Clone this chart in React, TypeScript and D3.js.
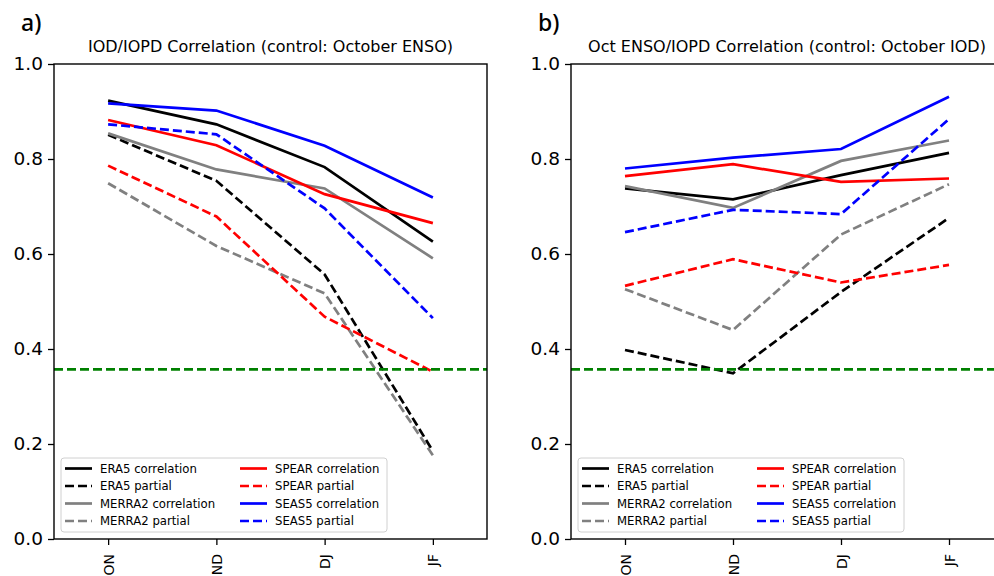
import React, { useEffect, useRef } from "react";
import * as d3 from "d3";

const seasons = ["ON", "ND", "DJ", "JF"];
const yTicks = [0, 0.2, 0.4, 0.6, 0.8, 1.0];
const signifLevel = 0.357;

// panel a: IOD/IOPD (control: October ENSO)
const iodEra5Corr = [0.923, 0.873, 0.783, 0.626];
const iodEra5Partial = [0.851, 0.754, 0.557, 0.185];
const iodMerra2Corr = [0.854, 0.778, 0.738, 0.591];
const iodMerra2Partial = [0.749, 0.617, 0.517, 0.176];
const iodSpearCorr = [0.882, 0.829, 0.726, 0.665];
const iodSpearPartial = [0.786, 0.679, 0.468, 0.352];
const iodSeas5Corr = [0.917, 0.902, 0.828, 0.719];
const iodSeas5Partial = [0.873, 0.852, 0.696, 0.465];

// panel b: Oct ENSO/IOPD (control: October IOD)
const ensoEra5Corr = [0.738, 0.715, 0.766, 0.813];
const ensoEra5Partial = [0.398, 0.349, 0.52, 0.676];
const ensoMerra2Corr = [0.743, 0.697, 0.796, 0.839];
const ensoMerra2Partial = [0.526, 0.44, 0.641, 0.747];
const ensoSpearCorr = [0.764, 0.789, 0.752, 0.759];
const ensoSpearPartial = [0.533, 0.589, 0.54, 0.577];
const ensoSeas5Corr = [0.78, 0.803, 0.821, 0.931];
const ensoSeas5Partial = [0.646, 0.693, 0.684, 0.884];

const seriesStyle = [
  { name: "ERA5 correlation", color: "black", dash: false },
  { name: "ERA5 partial", color: "black", dash: true },
  { name: "MERRA2 correlation", color: "gray", dash: false },
  { name: "MERRA2 partial", color: "gray", dash: true },
  { name: "SPEAR correlation", color: "red", dash: false },
  { name: "SPEAR partial", color: "red", dash: true },
  { name: "SEAS5 correlation", color: "blue", dash: false },
  { name: "SEAS5 partial", color: "blue", dash: true },
];

const panels = [
  {
    label: "a)",
    title: "IOD/IOPD Correlation (control: October ENSO)",
    left: 54,
    right: 487,
    series: [iodEra5Corr, iodEra5Partial, iodMerra2Corr, iodMerra2Partial, iodSpearCorr, iodSpearPartial, iodSeas5Corr, iodSeas5Partial],
  },
  {
    label: "b)",
    title: "Oct ENSO/IOPD Correlation (control: October IOD)",
    left: 571,
    right: 1003,
    series: [ensoEra5Corr, ensoEra5Partial, ensoMerra2Corr, ensoMerra2Partial, ensoSpearCorr, ensoSpearPartial, ensoSeas5Corr, ensoSeas5Partial],
  },
];

const W = 994;
const H = 576;
const top = 64;
const bottom = 539;
const dejavu = "'DejaVu Sans', sans-serif";

const App = () => {
  const svgRef = useRef<SVGSVGElement>(null);

  useEffect(() => {
    const svg = d3.select(svgRef.current);
    svg.selectAll("*").remove();

    const yScale = d3.scaleLinear().domain([0, 1]).range([bottom, top]);

    panels.forEach((p) => {
      const g = svg.append("g");
      const xScale = d3.scalePoint<string>().domain(seasons).range([p.left, p.right]).padding(0.5);

      const line = d3.line<number>()
        .x((d, i) => xScale(seasons[i]) as number)
        .y((d) => yScale(d));

      // data lines
      p.series.forEach((vals, k) => {
        const st = seriesStyle[k];
        g.append("path")
          .attr("d", line(vals))
          .attr("fill", "none")
          .attr("stroke", st.color)
          .attr("stroke-width", 2.7)
          .attr("stroke-dasharray", st.dash ? "9,4" : null);
      });

      // significance threshold
      g.append("line")
        .attr("x1", p.left).attr("x2", p.right)
        .attr("y1", yScale(signifLevel)).attr("y2", yScale(signifLevel))
        .attr("stroke", "green")
        .attr("stroke-width", 2.7)
        .attr("stroke-dasharray", "9,4");

      // spines
      g.append("rect")
        .attr("x", p.left).attr("y", top)
        .attr("width", p.right - p.left).attr("height", bottom - top)
        .attr("fill", "none").attr("stroke", "black").attr("stroke-width", 1.4);

      // y axis
      const yAxis = d3.axisLeft(yScale).tickValues(yTicks).tickFormat(d3.format(".1f")).tickSize(6).tickPadding(5);
      const ya = g.append("g").attr("transform", `translate(${p.left},0)`).call(yAxis);
      ya.select(".domain").remove();
      ya.selectAll("line").attr("stroke-width", 1.3);
      ya.selectAll("text").style("font-family", dejavu).style("font-size", "18.5px").attr("fill", "black");

      // x axis
      const xAxis = d3.axisBottom(xScale).tickSize(6).tickPadding(4);
      const xa = g.append("g").attr("transform", `translate(0,${bottom})`).call(xAxis);
      xa.select(".domain").remove();
      xa.selectAll("line").attr("stroke-width", 1.3);
      xa.selectAll("text")
        .style("font-family", dejavu)
        .style("font-size", "14px")
        .attr("fill", "black")
        .attr("transform", "rotate(-90)")
        .attr("x", -15)
        .attr("y", 0)
        .attr("dy", "0.36em")
        .attr("text-anchor", "end");

      // title
      g.append("text")
        .attr("x", (p.left + p.right) / 2)
        .attr("y", 52)
        .attr("text-anchor", "middle")
        .style("font-family", dejavu)
        .style("font-size", "16px")
        .text(p.title);

      // panel label
      g.append("text")
        .attr("x", p.left - 33)
        .attr("y", 31)
        .style("font-family", "'Noto Sans', sans-serif")
        .style("font-size", "23px")
        .style("font-weight", "500")
        .text(p.label);

      // legend
      const lx = p.left + 7;
      const ly = 458;
      const lg = g.append("g");
      lg.append("rect")
        .attr("x", lx).attr("y", ly)
        .attr("width", 326).attr("height", 74)
        .attr("rx", 3)
        .attr("fill", "white").attr("fill-opacity", 0.8)
        .attr("stroke", "#d0d0d0").attr("stroke-width", 1);
      seriesStyle.forEach((st, k) => {
        const col = Math.floor(k / 4);
        const row = k % 4;
        const x0 = lx + 4 + col * 175;
        const y0 = ly + 10.5 + row * 17.5;
        lg.append("line")
          .attr("x1", x0).attr("x2", x0 + 27)
          .attr("y1", y0).attr("y2", y0)
          .attr("stroke", st.color)
          .attr("stroke-width", 2.7)
          .attr("stroke-dasharray", st.dash ? "9,4" : null);
        lg.append("text")
          .attr("x", x0 + 35).attr("y", y0)
          .attr("dy", "0.36em")
          .style("font-family", dejavu)
          .style("font-size", "11.7px")
          .text(st.name);
      });
    });
  }, []);

  return (
    <svg
      ref={svgRef}
      width={W}
      height={H}
      style={{ position: "absolute", left: 0, top: 0, background: "white" }}
    />
  );
};

export default App;
